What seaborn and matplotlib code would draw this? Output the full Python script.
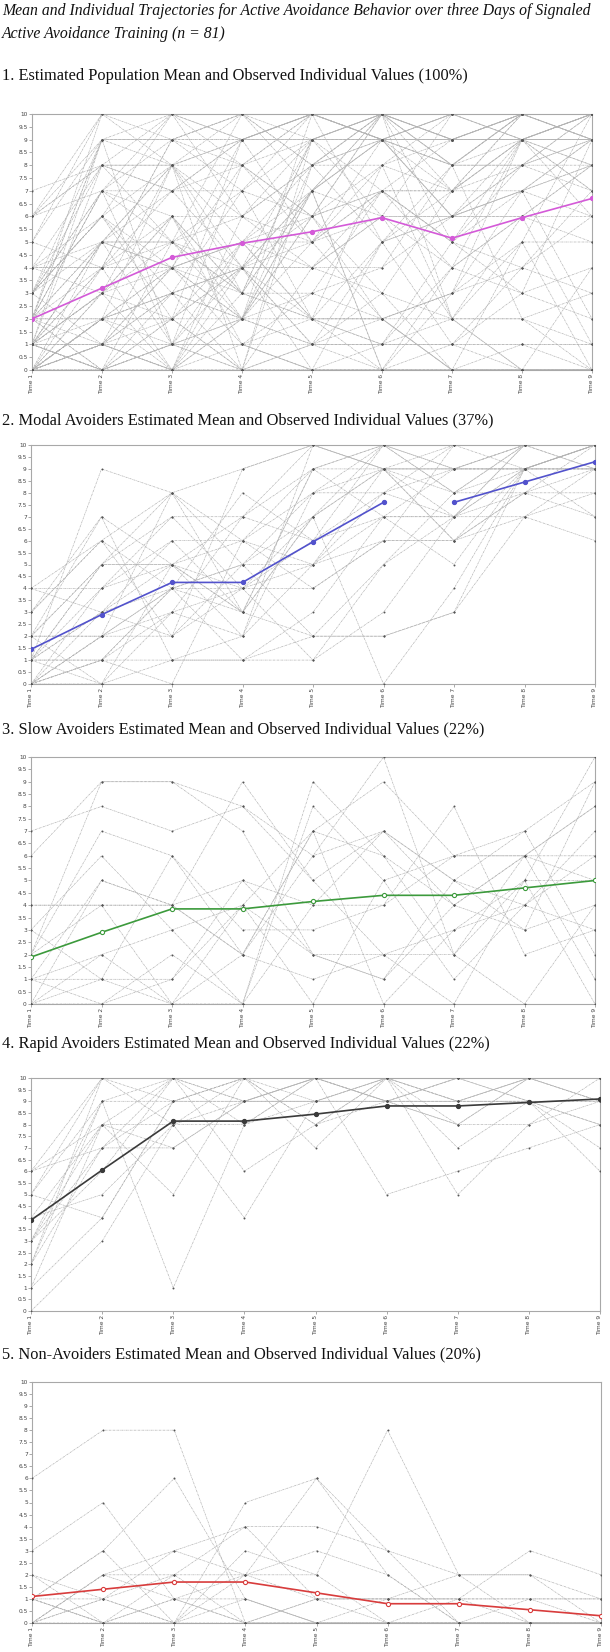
import numpy as np
import pandas as pd
import matplotlib
matplotlib.use("Agg")
import matplotlib.pyplot as plt
import seaborn as sns

sns.set_theme(style="white")
plt.rcParams['font.family'] = ['Liberation Serif', 'DejaVu Serif']

# ---------------- data ----------------
times = [1, 2, 3, 4, 5, 6, 7, 8, 9]
time_labels = ["Time 1", "Time 2", "Time 3", "Time 4", "Time 5",
               "Time 6", "Time 7", "Time 8", "Time 9"]
ytick_vals = [0, 0.5, 1, 1.5, 2, 2.5, 3, 3.5, 4, 4.5, 5, 5.5, 6, 6.5, 7,
              7.5, 8, 8.5, 9, 9.5, 10]

modal_individuals = [
    [0, 2, 4, 4, 6, 8, 7, 9, 10],
    [1, 3, 5, 3, 7, 9, 9, 9, 10],
    [2, 2, 2, 5, 8, 10, 8, 10, 10],
    [4, 4, 5, 7, 9, 9, 9, 9, 9],
    [0, 1, 1, 1, 1, 5, 7, 8, 9],
    [1, 5, 8, 9, 10, 9, 6, 7, 8],
    [2, 7, 5, 3, 2, 2, 3, 7, 9],
    [1, 9, 8, 6, 5, 7, 7, 10, 10],
    [0, 0, 3, 2, 10, 10, 10, 9, 10],
    [3, 6, 4, 8, 6, 7, 9, 10, 10],
    [2, 5, 7, 4, 4, 6, 6, 9, 9],
    [0, 1, 4, 3, 9, 10, 9, 10, 10],
    [1, 3, 2, 9, 10, 9, 10, 10, 10],
    [4, 6, 8, 5, 7, 10, 9, 9, 9],
    [0, 2, 3, 4, 5, 9, 8, 8, 7],
    [1, 4, 6, 3, 9, 10, 10, 10, 10],
    [2, 0, 1, 1, 3, 7, 5, 9, 10],
    [0, 3, 6, 6, 8, 9, 7, 10, 9],
    [1, 5, 5, 4, 7, 0, 4, 9, 10],
    [3, 7, 1, 2, 5, 8, 10, 10, 10],
    [0, 1, 0, 6, 4, 6, 6, 8, 8],
    [2, 2, 4, 5, 2, 2, 3, 9, 10],
    [1, 0, 5, 2, 8, 8, 9, 9, 9],
    [0, 4, 7, 7, 6, 10, 8, 10, 10],
    [2, 5, 5, 6, 9, 7, 7, 7, 6],
    [1, 1, 3, 7, 10, 9, 9, 10, 10],
    [0, 2, 8, 3, 7, 9, 6, 8, 10],
    [4, 3, 4, 5, 5, 6, 10, 10, 9],
    [3, 6, 2, 4, 1, 3, 7, 9, 7],
    [1, 1, 4, 1, 2, 5, 8, 9, 10],
]
slow_individuals = [
    [7, 8, 7, 8, 6, 7, 4, 6, 6],
    [6, 9, 9, 7, 2, 2, 3, 5, 10],
    [4, 4, 4, 9, 5, 7, 5, 4, 3],
    [2, 7, 6, 2, 7, 9, 6, 6, 1],
    [1, 1, 1, 5, 4, 4, 6, 7, 9],
    [0, 2, 0, 0, 8, 5, 1, 4, 7],
    [1, 5, 4, 2, 1, 2, 2, 6, 8],
    [3, 6, 3, 0, 9, 6, 4, 3, 4],
    [0, 0, 1, 4, 2, 1, 5, 7, 2],
    [2, 4, 0, 2, 6, 10, 2, 5, 0],
    [1, 2, 3, 4, 7, 0, 3, 4, 6],
    [0, 1, 6, 3, 3, 4, 8, 2, 3],
    [2, 9, 9, 8, 5, 2, 0, 5, 5],
    [1, 0, 2, 0, 4, 7, 5, 3, 9],
    [4, 4, 4, 2, 7, 6, 2, 0, 4],
    [0, 5, 4, 5, 2, 1, 4, 6, 5],
    [3, 1, 0, 4, 0, 5, 6, 6, 8],
]
rapid_individuals = [
    [6, 10, 10, 10, 10, 10, 10, 10, 10],
    [5, 9, 9, 9, 9, 9, 9, 9, 9],
    [3, 8, 8, 8, 10, 9, 8, 10, 9],
    [2, 7, 7, 9, 10, 10, 7, 9, 8],
    [1, 4, 9, 10, 8, 9, 9, 10, 10],
    [0, 3, 8, 9, 9, 10, 10, 9, 9],
    [4, 8, 5, 10, 9, 9, 8, 10, 10],
    [6, 7, 10, 6, 8, 10, 9, 9, 8],
    [3, 9, 1, 8, 10, 9, 10, 10, 9],
    [2, 10, 8, 4, 9, 10, 5, 8, 10],
    [1, 8, 10, 9, 10, 5, 6, 7, 8],
    [5, 4, 9, 10, 7, 10, 9, 10, 10],
    [3, 7, 9, 9, 10, 9, 10, 9, 7],
    [2, 9, 10, 8, 9, 10, 8, 8, 9],
    [4, 5, 8, 10, 10, 9, 10, 10, 10],
    [6, 8, 7, 9, 10, 10, 9, 9, 6],
    [5, 10, 9, 10, 8, 10, 10, 10, 10],
    [3, 6, 10, 9, 9, 9, 9, 10, 9],
]
non_individuals = [
    [6, 8, 8, 0, 0, 0, 0, 0, 0],
    [3, 5, 1, 0, 0, 0, 0, 0, 0],
    [2, 1, 0, 5, 6, 3, 0, 0, 0],
    [1, 3, 6, 1, 0, 0, 0, 0, 0],
    [0, 2, 3, 4, 4, 3, 2, 2, 0],
    [1, 0, 2, 2, 1, 1, 1, 1, 1],
    [0, 1, 3, 2, 6, 2, 0, 0, 0],
    [0, 0, 1, 2, 3, 2, 0, 0, 0],
    [1, 1, 0, 3, 2, 8, 2, 0, 0],
    [2, 0, 0, 1, 0, 0, 1, 3, 2],
    [0, 2, 1, 0, 1, 1, 1, 1, 1],
    [1, 3, 0, 2, 2, 0, 0, 0, 0],
    [0, 1, 2, 4, 1, 1, 1, 0, 0],
    [1, 0, 0, 0, 0, 1, 2, 2, 1],
    [0, 2, 2, 0, 1, 0, 0, 0, 0],
    [1, 0, 1, 1, 0, 0, 0, 1, 0],
]
population_individuals = (modal_individuals + slow_individuals
                          + rapid_individuals + non_individuals)

population_mean = [2.0, 3.2, 4.4, 4.95, 5.4, 5.95, 5.15, 5.95, 6.7]
modal_mean = [1.45, 2.9, 4.25, 4.25, 5.95, 7.6, 7.6, 8.45, 9.3]
modal_mean_segment = [0, 0, 0, 0, 0, 0, 1, 1, 1]   # line is broken between Time 6 and Time 7
slow_mean = [1.9, 2.9, 3.85, 3.85, 4.15, 4.4, 4.4, 4.7, 5.0]
rapid_mean = [3.9, 6.05, 8.15, 8.15, 8.45, 8.8, 8.8, 8.95, 9.1]
non_mean = [1.1, 1.4, 1.7, 1.7, 1.25, 0.8, 0.8, 0.55, 0.3]

main_title = ("Mean and Individual Trajectories for Active Avoidance Behavior over three Days of Signaled\n"
              "Active Avoidance Training (n = 81)")
panel_titles = [
    "1. Estimated Population Mean and Observed Individual Values (100%)",
    "2. Modal Avoiders Estimated Mean and Observed Individual Values (37%)",
    "3. Slow Avoiders Estimated Mean and Observed Individual Values (22%)",
    "4. Rapid Avoiders Estimated Mean and Observed Individual Values (22%)",
    "5. Non-Avoiders Estimated Mean and Observed Individual Values (20%)",
]
panel_individuals = [population_individuals, modal_individuals, slow_individuals,
                     rapid_individuals, non_individuals]
panel_means = [population_mean, modal_mean, slow_mean, rapid_mean, non_mean]
panel_segments = [None, modal_mean_segment, None, None, None]
mean_colors = ["#d45ad8", "#5252cc", "#3c9a3c", "#3a3a3a", "#d83c3c"]
mean_marker_fill = ["#d45ad8", "#5252cc", "white", "#3a3a3a", "white"]

# ---------------- layout (pixels) ----------------
W, H = 610, 1652
axes_px = [  # left, right, top, bottom
    (32, 592, 114, 370),
    (31, 595, 445, 684),
    (31, 595, 757, 1004),
    (31, 600, 1078, 1311),
    (32, 601, 1382, 1623),
]
title_top_px = [68, 412, 721, 1036, 1346]

fig = plt.figure(figsize=(W / 100, H / 100), dpi=100)
fig.patch.set_facecolor("white")

fig.text(2 / W, 1 - 3 / H, main_title, ha="left", va="top", fontsize=11.3,
         style="italic", linespacing=1.6, color="#111111")

for i in range(5):
    l, r, t, b = axes_px[i]
    ax = fig.add_axes([l / W, 1 - b / H, (r - l) / W, (b - t) / H])
    ax.set_facecolor("white")

    rows = []
    for sid, vals in enumerate(panel_individuals[i]):
        for tt, v in zip(times, vals):
            rows.append({"subject": sid, "time": tt, "value": v})
    ind_df = pd.DataFrame(rows)
    sns.lineplot(data=ind_df, x="time", y="value", units="subject", estimator=None,
                 color="#b4b4b4", linewidth=0.5, linestyle=(0, (3, 1, 1, 1)),
                 ax=ax, legend=False)
    # small dark dots at observed values
    sns.scatterplot(data=ind_df, x="time", y="value", color="#555555", s=2.0,
                    linewidth=0, ax=ax, legend=False, zorder=3)

    seg = panel_segments[i] if panel_segments[i] is not None else [0] * len(times)
    mean_df = pd.DataFrame({"time": times, "value": panel_means[i], "seg": seg})
    sns.lineplot(data=mean_df, x="time", y="value", units="seg", estimator=None,
                 color=mean_colors[i], linewidth=1.2, marker="o", markersize=3.0,
                 markerfacecolor=mean_marker_fill[i], markeredgecolor=mean_colors[i],
                 markeredgewidth=0.8, ax=ax, legend=False, zorder=5)

    ax.set_xlim(1, 9)
    ax.set_ylim(0, 10)
    ax.set_xticks(times)
    ax.set_xticklabels(time_labels, rotation=90, fontsize=4.2,
                       family=["DejaVu Sans"], color="#444444")
    ax.set_yticks(ytick_vals)
    ax.set_yticklabels([("%g" % v) for v in ytick_vals], fontsize=4.2,
                       family=["DejaVu Sans"], color="#444444")
    ax.tick_params(axis="both", length=2, width=0.5, pad=1, color="#888888",
                   left=True, bottom=True)
    ax.set_xlabel("")
    ax.set_ylabel("")
    for sp in ax.spines.values():
        sp.set_visible(True)
        sp.set_color("#a8a8a8")
        sp.set_linewidth(0.8)

    fig.text(2 / W, 1 - title_top_px[i] / H, panel_titles[i], ha="left", va="top",
             fontsize=11.8, color="#111111")

fig.savefig("out.png", dpi=100, facecolor="white")
